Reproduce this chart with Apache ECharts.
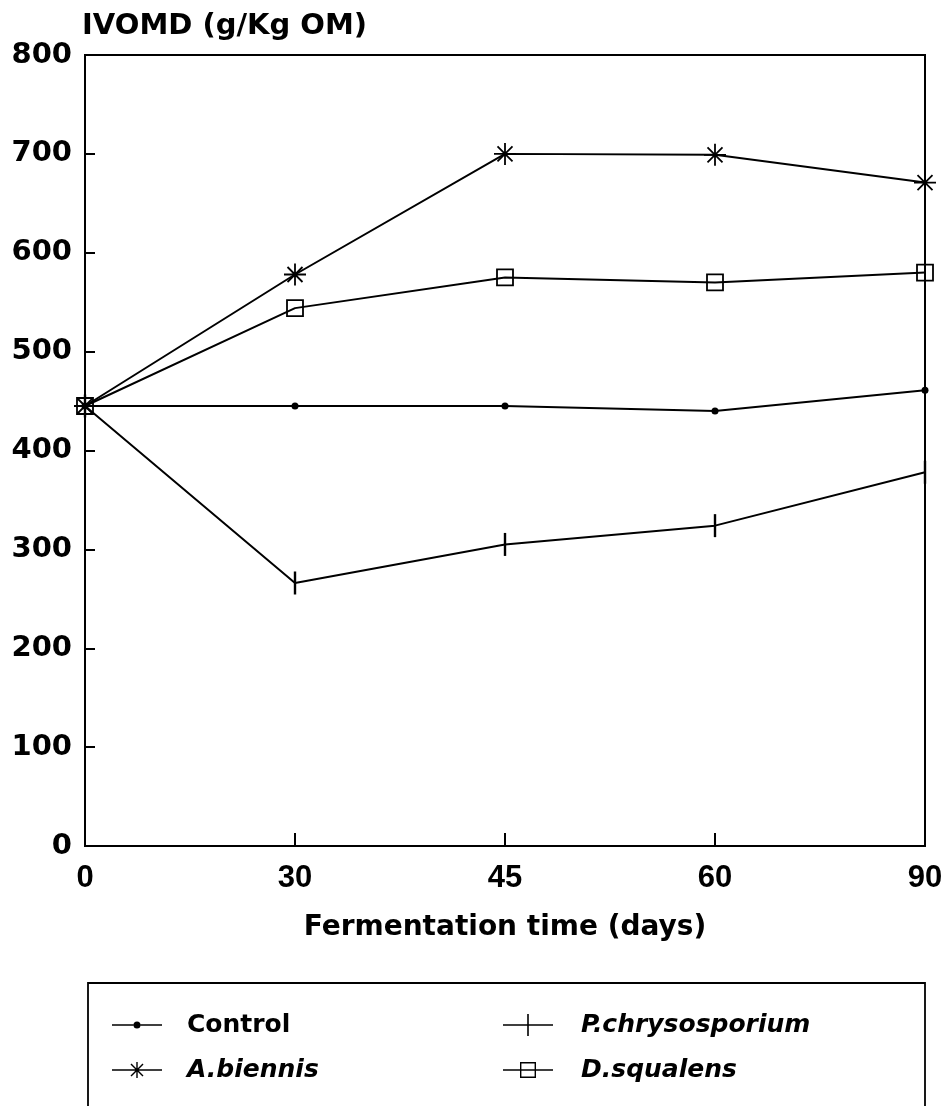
<!DOCTYPE html>
<html>
<head>
<meta charset="utf-8">
<title>IVOMD vs fermentation time</title>
<script src="https://cdn.jsdelivr.net/npm/echarts@6/dist/echarts.min.js"></script>
<style>
  html, body { margin: 0; padding: 0; background: #fff; }
  #chart { width: 949px; height: 1106px; }
</style>
</head>
<body>
<div id="chart"></div>
<script>
// Fermentation time categories (days) and y-axis ticks
const days = ['0', '30', '45', '60', '90'];
const yTicks = [0, 100, 200, 300, 400, 500, 600, 700, 800];

// IVOMD (g/Kg OM) per treatment
const control = [445, 445, 445, 440, 461];
const pChrysosporium = [445, 266, 305, 324, 378];
const aBiennis = [445, 578, 700, 699, 671];
const dSqualens = [445, 544, 575, 570, 580];

const seriesNames = ['Control', 'P.chrysosporium', 'A.biennis', 'D.squalens'];

// Marker shapes (filled outlines, all wound clockwise)
const asteriskSymbol = 'path://M10.1,0H11.9V22H10.1Z M0,10.1H22V11.9H0Z ' +
  'M4.14,2.86L19.14,17.86L17.86,19.14L2.86,4.14Z ' +
  'M19.14,4.14L4.14,19.14L2.86,17.86L17.86,2.86Z';

// Legend icons: a short line with the marker in its middle (50 x 22 box)
const lineLeftRight = 'M0,10.3H50V11.7H0Z ';
const iconControl = 'path://M0,10.3H21.5V11.7H0Z M28.5,10.3H50V11.7H28.5Z ' +
  'M21.5,11A3.5,3.5 0 1,1 28.5,11A3.5,3.5 0 1,1 21.5,11Z';
const iconPChry = 'path://' + lineLeftRight + 'M24.2,0H25.8V22H24.2Z';
const iconABien = 'path://' + lineLeftRight + 'M24.3,3H25.7V19H24.3Z ' +
  'M19.5,4.5L31.5,16.5L30.5,17.5L18.5,5.5Z M31.5,5.5L19.5,17.5L18.5,16.5L30.5,4.5Z';
const iconDSqua = 'path://' + lineLeftRight + 'M17,3H33V4.4H17Z M17,17.6H33V19H17Z ' +
  'M17,3H18.4V19H17Z M31.6,3H33V19H31.6Z';

const chart = echarts.init(document.getElementById('chart'), null, { renderer: 'canvas' });

const baseFont = 'DejaVu Sans';
const lineStyle = { color: '#000', width: 2 };

function lineSeries(name, data, symbol, symbolSize, itemStyle) {
  return {
    name: name,
    type: 'line',
    data: data,
    symbol: symbol,
    symbolSize: symbolSize,
    showAllSymbol: true,
    clip: false,
    lineStyle: lineStyle,
    itemStyle: itemStyle,
    emphasis: { disabled: true },
    animation: false
  };
}

const legendText = {
  color: '#000',
  fontFamily: baseFont,
  fontWeight: 'bold',
  fontSize: 25,
  lineHeight: 26
};

chart.setOption({
  backgroundColor: '#fff',
  animation: false,
  title: {
    text: 'IVOMD (g/Kg OM)',
    left: 82,
    top: 10,
    padding: 0,
    textStyle: {
      color: '#000',
      fontFamily: baseFont,
      fontWeight: 'bold',
      fontSize: 29,
      lineHeight: 32
    }
  },
  grid: {
    left: 85,
    right: 24,
    top: 55,
    bottom: 260,
    show: true,
    borderColor: '#000',
    borderWidth: 2,
    containLabel: false
  },
  xAxis: {
    type: 'category',
    data: days,
    boundaryGap: false,
    name: 'Fermentation time (days)',
    nameLocation: 'middle',
    nameGap: 67,
    nameTextStyle: {
      color: '#000',
      fontFamily: baseFont,
      fontWeight: 'bold',
      fontSize: 28,
      lineHeight: 30
    },
    axisLine: { lineStyle: { color: '#000', width: 2 } },
    axisTick: { show: true, inside: true, length: 13, alignWithLabel: true, lineStyle: { color: '#000', width: 2 } },
    axisLabel: {
      color: '#000',
      fontFamily: 'Liberation Sans',
      fontWeight: 'bold',
      fontSize: 31,
      lineHeight: 32,
      margin: 16,
      interval: 0
    },
    splitLine: { show: false }
  },
  yAxis: {
    type: 'value',
    min: yTicks[0],
    max: yTicks[yTicks.length - 1],
    interval: 100,
    axisLine: { show: true, lineStyle: { color: '#000', width: 2 } },
    axisTick: { show: true, inside: true, length: 10, lineStyle: { color: '#000', width: 2 } },
    axisLabel: {
      color: '#000',
      fontFamily: baseFont,
      fontWeight: 'bold',
      fontSize: 29,
      margin: 13
    },
    splitLine: { show: false }
  },
  legend: [
    {
      orient: 'vertical',
      left: 112,
      top: 1012,
      padding: 0,
      itemWidth: 50,
      itemHeight: 22,
      itemGap: 19,
      symbolKeepAspect: true,
      selectedMode: false,
      itemStyle: { color: '#000', borderWidth: 0 },
      textStyle: Object.assign({ padding: [0, 0, 0, 20] }, legendText),
      data: [
        { name: seriesNames[0], icon: iconControl },
        { name: seriesNames[2], icon: iconABien, textStyle: { fontStyle: 'italic' } }
      ]
    },
    {
      orient: 'vertical',
      left: 503,
      top: 1012,
      padding: 0,
      itemWidth: 50,
      itemHeight: 22,
      itemGap: 19,
      symbolKeepAspect: true,
      selectedMode: false,
      itemStyle: { color: '#000', borderWidth: 0 },
      textStyle: Object.assign({ padding: [0, 0, 0, 23], fontStyle: 'italic' }, legendText),
      data: [
        { name: seriesNames[1], icon: iconPChry },
        { name: seriesNames[3], icon: iconDSqua }
      ]
    }
  ],
  graphic: [
    {
      // open-bottomed frame around the legend
      type: 'polyline',
      silent: true,
      shape: { points: [[88, 1112], [88, 983], [925, 983], [925, 1112]] },
      style: { fill: null, stroke: '#000', lineWidth: 1.8 }
    }
  ],
  series: [
    lineSeries(seriesNames[0], control, 'circle', 7, { color: '#000', borderWidth: 0 }),
    lineSeries(seriesNames[1], pChrysosporium, 'rect', [2.4, 23], { color: '#000', borderWidth: 0 }),
    lineSeries(seriesNames[2], aBiennis, asteriskSymbol, 22, { color: '#000', borderWidth: 0 }),
    lineSeries(seriesNames[3], dSqualens, 'rect', [16, 16], { color: 'rgba(0,0,0,0)', borderColor: '#000', borderWidth: 1.8 })
  ]
});
</script>
</body>
</html>
